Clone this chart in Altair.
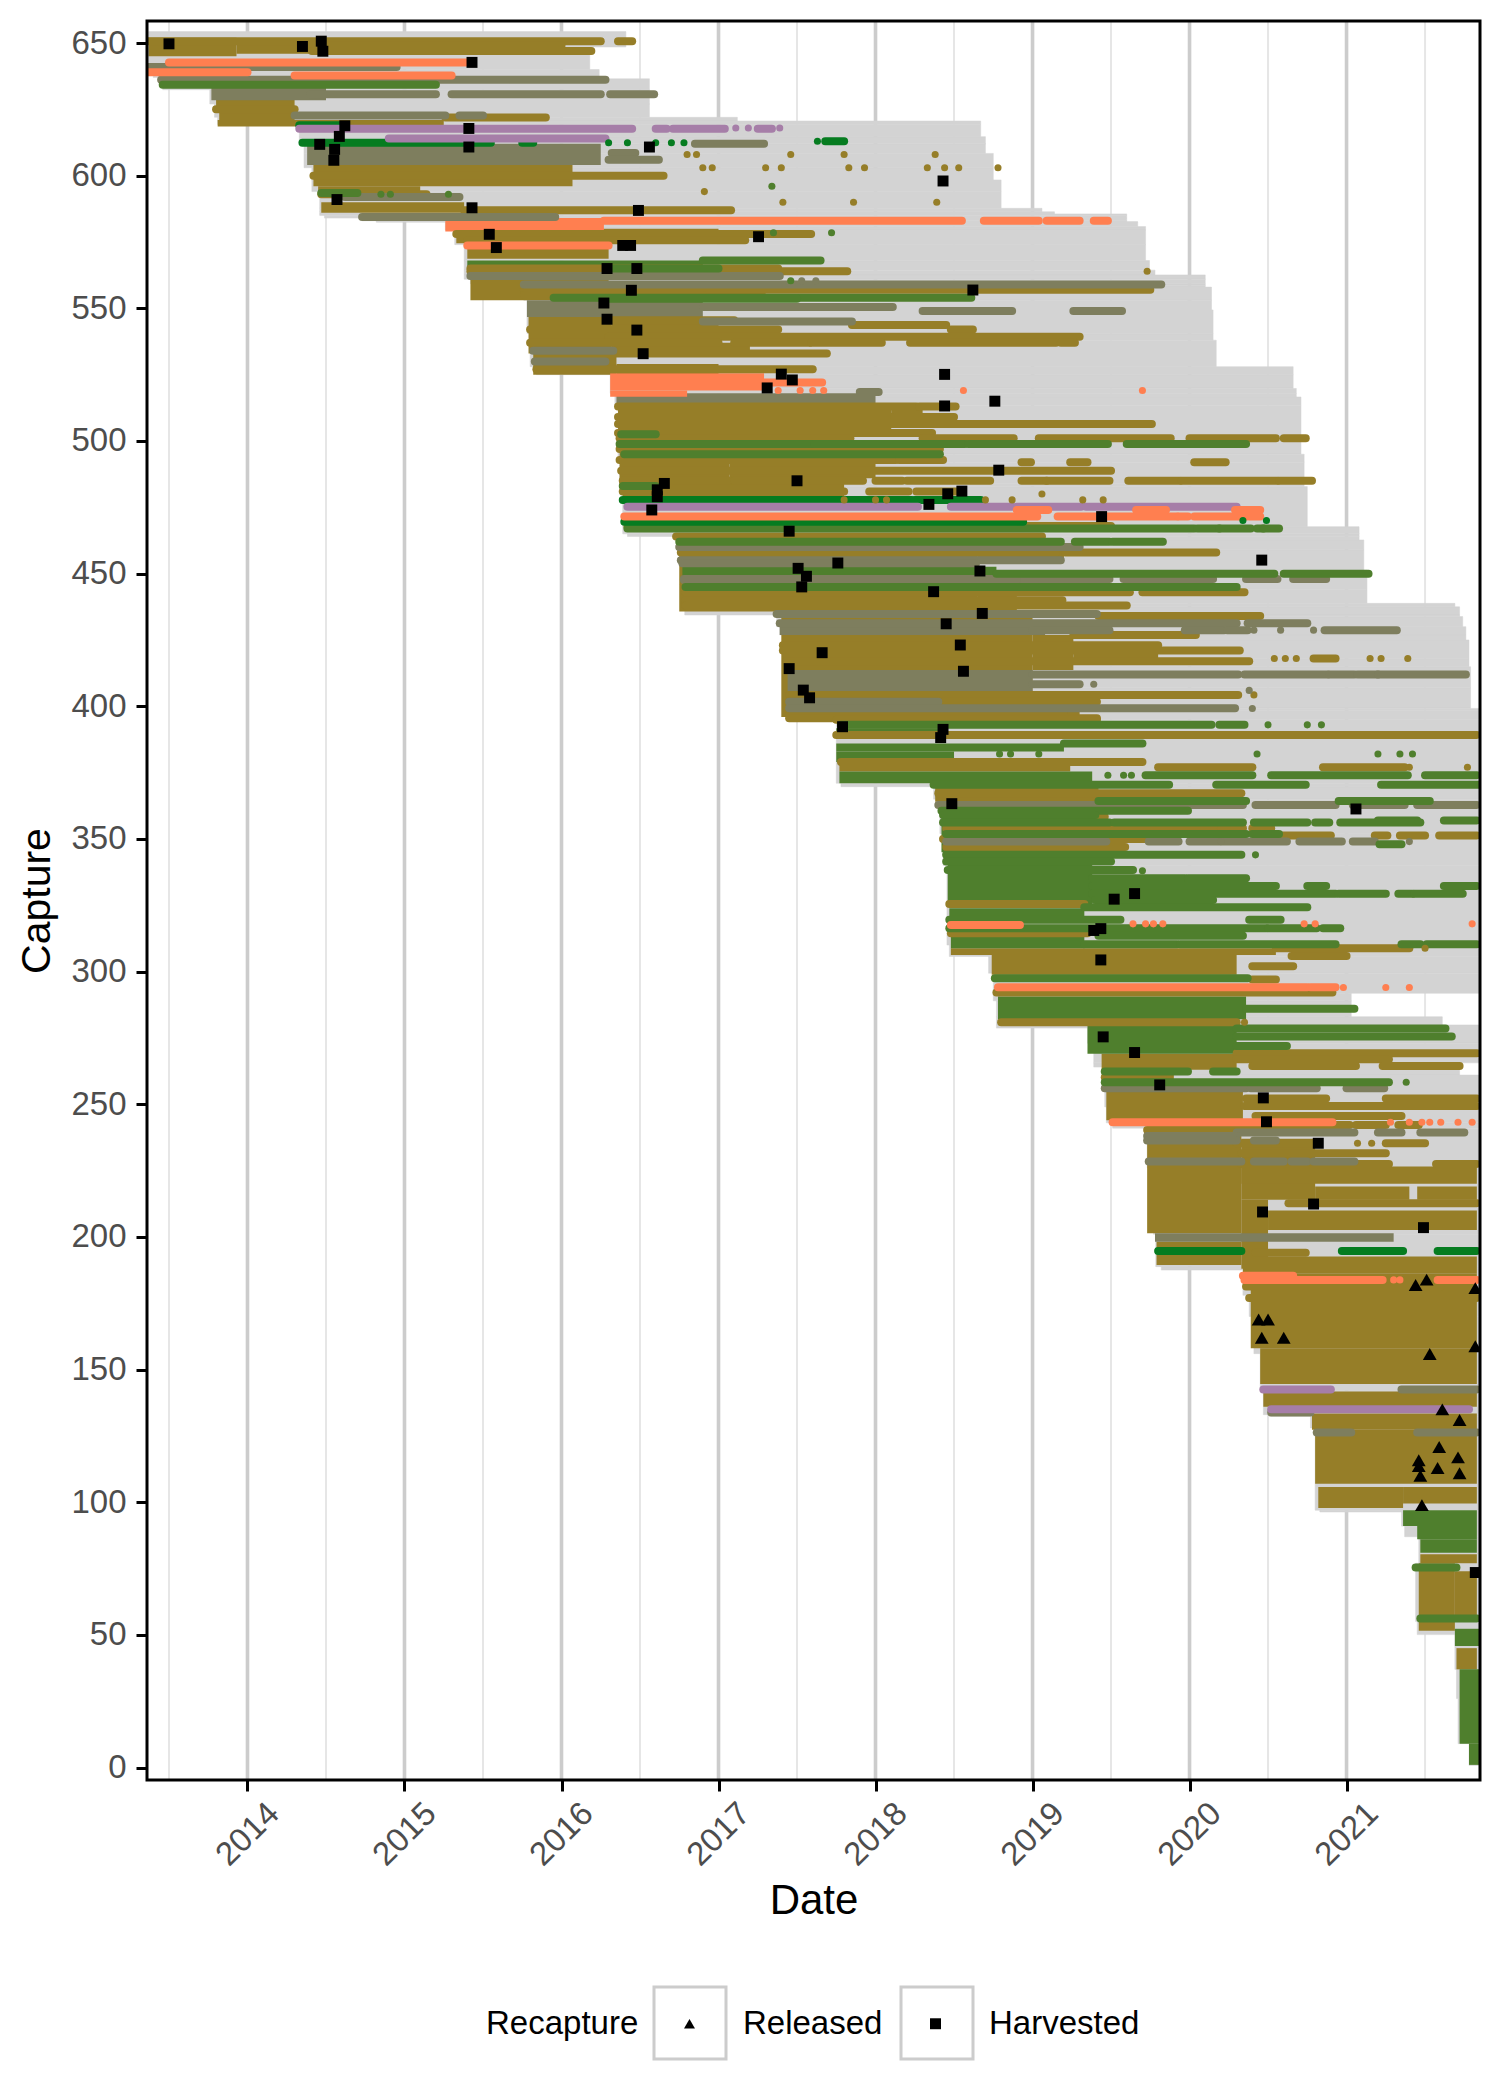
import altair as alt
import pandas as pd

# ---- capture number and decimal year ----
year_ticks = [2014, 2015, 2016, 2017, 2018, 2019, 2020, 2021]
half_years = [2013.5, 2014.5, 2015.5, 2016.5, 2017.5, 2018.5, 2019.5, 2020.5, 2021.5]
capture_ticks = list(range(0, 651, 50))

span_first = [(654.3,13.37),(640,13.40),(637,13.46),(632.4,13.76),(627,13.79),(622,13.81),(619.3,14.33),(612,14.36),(603,14.41),(594,14.46),(585,14.49),(584,14.73),(583,14.82),(582.5,15.26),(579.5,15.32),(574,15.38),(561,15.42),(559.3,15.44),(558.7,15.76),(553,15.78),(540.5,15.80),(528,15.84),(525,16.31),(518,16.34),(513.5,16.36),(492,16.37),(484,16.39),(465,16.42),(464,16.73),(459,16.76),(450,16.775),(444,16.785),(434.4,17.37),(430,17.39),(426.9,17.41),(418,17.43),(407,17.44),(398.5,17.45),(395,17.75),(371,17.78),(369.7,18.37),(365,18.41),(352,18.43),(340,18.455),(310,18.47),(305.7,18.72),(299.4,18.75),(289,18.77),(278.7,19.35),(273,19.39),(264,19.45),(258,19.46),(249,19.47),(243,19.51),(241,19.73),(226,19.745),(214,19.77),(201,19.785),(188.8,19.82),(187.5,20.34),(178,20.38),(170,20.41),(156,20.45),(142,20.47),(133,20.51),(132.4,20.77),(128,20.80),(97,20.83),(96.3,21.35),(91,21.37),(87,21.46),(77,21.44),(55,21.45),(50.1,21.69),(37,21.70),(26,21.71),(9,21.78)]
span_last = [(654.3,16.41),(648.5,16.18),(640,16.24),(636.5,16.56),(622,17.12),(620.6,18.67),(614.7,18.70),(608.4,18.75),(598.4,18.80),(587.7,19.06),(586.4,19.14),(585.6,19.6),(582.6,19.67),(580.8,19.72),(568,19.745),(564.4,19.78),(562.6,20.10),(558,20.14),(549.4,20.15),(538,20.17),(528,20.66),(519.8,20.68),(516.6,20.71),(495,20.73),(482.8,20.75),(467.7,21.08),(462.7,21.11),(451.3,21.13),(438.8,21.69),(437.5,21.72),(433.8,21.74),(430,21.76),(425,21.78),(414.9,21.79),(399.2,21.86),(291.8,21.03),(283,21.61),(279.9,21.86),(265.6,21.72),(261,21.86)]
span_bottom = 0.8

olive_blocks = [(652,645,13.37,13.93),(651,646,13.93,14.45),(629,624,13.8,14.3),(624,619,13.82,14.3),(621,618.5,13.81,15.25),(604,596,14.42,16.07),(596,592,14.45,15.1),(590,586,14.47,15.38),(580,574.5,15.33,17.0),(574.5,568.7,15.4,16.3),(565,553,15.42,16.3),(558.7,553,16.3,17.3),(546.7,533,15.79,16.32),(546,540,16.32,17.0),(537,533,16.32,17.2),(533,525,15.82,16.35),(529,525,16.35,17.0),(513.5,501.6,16.36,18.1),(513.5,507,18.1,18.3),(501.6,484,16.37,17.07),(499,486,17.07,18.0),(484,477.5,16.39,17.8),(464,435.7,16.75,18.65),(459.5,455,18.65,19.2),(443.8,435.7,18.65,18.9),(434.5,396,17.40,19.0),(426.9,413.7,19.0,19.26),(423,417,19.26,19.8),(405.5,396,19.0,19.3),(379,375.4,17.77,19.24),(369.7,364,18.38,19.42),(308.8,306.3,18.48,20.55),(306.3,298.8,18.74,20.3),(269,263,19.44,20.3),(263,254.8,19.46,19.9),(254.8,244,19.47,20.34),(240,201.4,19.73,20.33),(198.2,189.4,19.79,20.33),(237,214,20.33,20.8),(214,188,20.33,20.5),(192.6,186.3,20.34,21.83),(186.3,180,20.35,21.83),(180,158,20.39,21.83),(158,144.6,20.45,21.83),(141.7,136,20.47,21.83),(133.4,127.3,20.78,21.83),(127.3,107,20.8,21.83),(105.7,97.8,20.82,21.36),(105.7,99.5,21.36,21.83),(80.4,77,21.47,21.83),(77,51.6,21.46,21.69),(74,57.3,21.69,21.83),(45,37,21.7,21.83),(226.5,220,20.33,21.83),(219,214,20.8,21.4),(219,214,21.45,21.83),(210,202.6,20.5,21.83)]
grey_blocks = [(633,628.4,13.77,14.5),(612,604,14.38,16.25),(553,546.7,15.78,16.9),(518,513.5,16.35,18.0),(430.6,426.9,17.39,19.08),(413.7,405.5,17.44,19.0),(201.4,198.2,19.78,21.3)]
moss_blocks = [(568,565,15.4,16.9),(452.6,448.8,16.77,18.77),(391.7,389.8,17.75,18.42),(386,383,17.75,19.2),(383,379,17.75,18.5),(375.4,371,17.77,19.38),(364,345,18.42,19.4),(345.2,324.5,18.46,19.38),(335,326,19.38,19.75),(323.9,320.1,18.47,19.33),(313.8,308.8,18.48,19.33),(290.6,282,18.78,20.36),(280.5,269,19.35,20.3),(97,91,21.36,21.83),(91,86,21.45,21.83),(86,81,21.47,21.83),(52.3,45.8,21.69,21.85),(37,9,21.72,21.85),(9,1,21.78,21.85)]
coral_blocks = [(525.5,519,16.31,17.29),(519,516.7,16.31,16.8),(584,579,15.26,16.27)]

olive_rows = [(650.7,13.37,16.25),(650.7,16.36,16.45),(649,14.4,16.0),(647,14.41,16.19),(625,13.8,14.3),(621.9,15.26,15.9),(600,14.42,16.65),(593,14.47,15.14),(587,15.38,17.08),(578,15.33,17.59),(575.7,15.4,17.17),(565,15.42,17.38),(564,15.42,17.82),(557,15.76,19.75),(555,15.76,16.9),(545.5,16.3,17.1),(543.7,17.85,18.45),(542,15.8,17.38),(542,18.48,18.62),(539.3,16.3,19.3),(537,15.8,17.0),(537,17.1,17.58),(537,17.59,18.04),(537,18.22,19.15),(537,19.18,19.27),(533,15.85,17.69),(527,15.84,17.6),(513,16.36,18.26),(513,18.28,18.51),(509,16.36,18.1),(509,18.12,18.5),(506.4,16.36,19.76),(503,16.36,18.36),(501,16.37,17.84),(501,18.3,18.88),(501,19.04,19.88),(501,20.0,20.55),(501,20.6,20.74),(497,16.37,18.41),(492.8,16.37,18.13),(492.8,18.15,18.43),(492,18.93,18.99),(492,19.24,19.35),(492,20.03,20.23),(488.8,16.38,19.5),(485,16.39,17.08),(485,17.1,17.92),(485,18.0,18.17),(485,18.2,18.73),(485,18.93,19.09),(485,19.09,19.49),(485,19.61,19.94),(485,19.95,20.56),(485,20.57,20.78),(481,16.39,17.8),(481,17.96,18.21),(481,18.26,18.52),(468,16.42,19.5),(464,16.73,19.06),(458,16.76,19.15),(458,19.21,20.17),(446,16.78,18.6),(443,16.79,19.62),(443,19.7,20.35),(440,16.79,19.19),(438,16.79,19.6),(434,19.42,20.45),(426.9,19.26,20.04),(423,17.41,19.8),(421,17.41,20.32),(417,17.43,20.38),(418,20.79,20.93),(404.3,17.45,20.31),(401.7,17.45,19.41),(396.7,17.45,19.2),(395.5,17.45,19.41),(394.9,17.75,19.41),(389.2,17.75,21.83),(379,17.78,19.7),(377,19.8,20.4),(377,20.85,21.37),(367.2,18.4,20.33),(358.4,18.82,19.46),(354,18.45,20.17),(354,20.2,20.34),(354,20.4,20.52),(351.3,20.58,20.9),(351.3,21.18,21.26),(351.3,21.34,21.5),(351.3,21.59,21.83),(350,18.43,19.9),(347,18.45,19.59),(325.5,18.47,19.33),(314.5,18.48,19.35),(305.9,20.65,21.0),(302,20.4,20.66),(308.8,20.55,21.4),(297,20.4,20.55),(292.1,18.77,20.91),(280.9,18.8,20.3),(269.2,20.3,21.83),(267,20.3,21.27),(264.4,20.4,21.06),(264.4,21.23,21.72),(260.2,19.46,19.83),(252.2,20.36,20.87),(252.2,21.25,21.83),(249.3,20.35,21.83),(245.6,20.42,21.35),(242.2,20.91,21.02),(242.2,21.06,21.25),(242.2,21.33,21.46),(240.3,19.73,20.93),(235.3,20.3,20.82),(235.3,21.25,21.5),(231.5,20.33,21.25),(227.5,20.33,21.27),(227.5,21.57,21.83),(212.7,20.63,21.83),(194,20.42,20.74),(181.3,20.36,21.6),(177,20.38,21.83)]
grey_rows = [(641,13.37,14.95),(636.2,13.45,16.28),(630.7,14.4,15.2),(630.7,15.3,16.25),(630.7,16.31,16.59),(622.7,14.3,15.26),(622.7,15.35,15.5),(612,16.85,17.29),(608.5,16.32,16.47),(606,16.3,16.62),(592,14.62,15.35),(584.4,14.73,15.96),(562.2,15.42,17.39),(559,15.76,19.82),(550.5,16.9,18.11),(549,18.3,18.87),(549,19.26,19.57),(545,16.9,17.85),(534,15.82,16.33),(530,15.83,16.28),(518.5,17.9,18.02),(460,16.75,19.3),(455,16.76,19.18),(453.9,16.77,18.64),(448,16.78,19.49),(448,19.58,20.15),(448,20.36,20.56),(448,20.66,20.87),(447.6,16.78,18.9),(434.8,17.37,19.41),(431.3,17.39,20.3),(431.3,20.37,20.75),(428.7,19.0,19.49),(428.7,19.97,20.22),(428.7,20.24,20.37),(428.7,20.86,21.32),(412,19.0,20.31),(412,20.35,20.88),(412,20.89,21.05),(412,21.07,21.2),(412,21.2,21.76),(408.3,19.0,19.3),(401.7,17.45,18.4),(399.3,17.45,20.29),(362.8,18.4,20.34),(362.8,20.42,20.93),(362.8,21.04,21.37),(362.8,21.45,21.83),(349,18.45,19.47),(349,19.74,19.93),(349,20.0,20.62),(349,20.7,20.97),(349,21.04,21.18),(256,19.46,20.36),(256,20.39,20.81),(256,21.0,21.24),(239.4,20.3,21.05),(239.4,21.2,21.35),(239.4,21.47,21.75),(238,19.73,20.3),(236.3,19.73,20.3),(236.3,20.41,20.55),(228.4,19.74,20.33),(228.4,20.41,20.6),(228.4,20.65,20.75),(228.4,20.79,21.05),(126.3,20.81,21.03),(126.3,21.45,21.83),(142.5,21.35,21.83),(133.8,20.52,20.77)]
moss_rows = [(634.3,13.46,15.2),(593.5,14.47,14.7),(568,16.9,17.65),(565,16.3,17.0),(554,15.95,18.61),(553.6,16.28,17.5),(498.9,16.37,17.6),(498.9,17.61,18.57),(498.9,18.59,19.48),(498.9,19.6,20.36),(502.5,16.38,16.6),(495,16.4,18.41),(483,16.39,16.6),(467,16.42,20.03),(467,20.05,20.19),(467,20.19,20.39),(467,20.43,20.47),(467,20.47,20.57),(462,16.75,19.18),(462,19.27,19.49),(462,19.51,19.83),(450,18.77,20.54),(450,20.6,21.14),(445,16.79,20.3),(393,17.78,20.14),(393,20.19,20.35),(386,19.2,19.7),(374,19.72,20.4),(374,20.52,21.39),(374,21.5,21.83),(370.4,18.37,19.87),(370.4,20.17,20.74),(370.4,21.22,21.85),(364.3,19.42,20.36),(364.3,20.95,21.53),(360.6,18.42,19.99),(359,18.43,19.4),(357,21.2,21.45),(357,21.62,21.83),(356.2,18.43,19.49),(356.2,19.52,20.34),(356.2,20.41,20.75),(356.2,20.8,20.89),(356.2,20.96,21.47),(351.9,18.45,20.36),(351.9,20.4,20.57),(348,21.21,21.35),(344,18.45,20.33),(341.5,18.45,19.5),(338.3,18.46,19.64),(335.2,19.38,19.97),(335.2,19.99,20.36),(332.3,19.38,20.55),(332.3,20.75,20.87),(332.3,21.62,21.83),(329.3,19.38,20.93),(329.3,20.95,21.25),(329.3,21.33,21.42),(329.3,21.43,21.74),(327,19.4,20.15),(324.3,19.33,20.75),(319.5,18.47,19.56),(319.5,20.38,20.58),(316.3,18.47,20.49),(316.3,20.5,20.81),(316.3,20.85,20.96),(313.5,19.42,20.34),(310.3,19.33,19.92),(310.3,19.94,20.93),(310.3,21.35,21.47),(310.3,21.51,21.83),(297.5,18.76,20.37),(286,20.36,21.05),(278.6,20.3,21.63),(275.5,20.3,21.67),(272,20.3,20.62),(262.3,19.46,19.99),(262.3,20.15,20.3),(258.3,19.46,21.27),(75.4,21.44,21.7),(56.2,21.47,21.83)]
dkgreen_rows = [(619,14.33,14.59),(612.4,14.35,15.55),(612.4,15.75,15.82),(613,17.68,17.8),(477.8,16.39,18.23),(477.8,18.25,18.67),(469.6,16.4,18.94),(194.7,19.8,20.33),(194.7,20.97,21.36),(194.7,21.58,21.83)]
purple_rows = [(617.7,14.33,16.45),(617.7,16.6,16.67),(617.7,16.71,17.04),(617.7,17.25,17.34),(614,14.9,16.28),(475.2,16.42,18.27),(475.2,18.48,18.87),(475.2,18.9,19.31),(475.2,19.34,20.3),(142.5,20.47,20.9),(135,20.52,21.78)]
coral_rows = [(642.7,13.5,15.4),(639,13.37,14.0),(637.8,14.3,15.3),(583,16.27,18.55),(583,18.69,19.04),(583,19.09,19.3),(583,19.39,19.48),(573.7,15.4,16.3),(522,17.29,17.66),(471.5,16.4,19.03),(471.5,19.16,19.92),(471.5,19.93,19.99),(471.5,20.03,20.36),(471.5,20.38,20.45),(474,20.29,20.45),(474,18.9,19.1),(474,19.66,19.85),(294.1,18.78,20.75),(294.1,20.77,20.93),(243.2,19.51,20.91),(185.4,20.34,20.66),(183.8,20.35,21.23),(183.8,21.58,21.83),(317.6,18.48,18.92)]

olive_dots = [(608,16.8),(608,16.86),(603,16.9),(603,16.96),(594,16.91),(608,17.46),(608,17.8),(608,18.38),(603,17.3),(603,17.4),(603,17.83),(603,17.93),(603,18.33),(603,18.44),(603,18.53),(603,18.78),(590,17.41),(590,17.86),(590,18.39),(564,19.73),(418,20.54),(418,20.61),(418,20.68),(418,21.15),(418,21.22),(418,21.39),(404.3,20.41),(477.8,17.8),(477.8,18.0),(477.8,18.07),(477.8,18.7),(477.8,18.87),(477.8,19.32),(477.8,19.45),(480,19.06),(308.8,21.5),(235.3,21.07),(235.3,21.16),(377,21.4),(377,21.77),(280.9,20.35)]
grey_dots = [(560.4,17.53),(560.4,17.62),(408.3,19.39),(406,20.38),(399.2,20.4),(428.7,20.41),(428.7,20.58),(428.7,20.79),(349,21.4),(349,20.2)]
moss_dots = [(593,14.85),(593,14.91),(593,15.28),(596,17.34),(578.5,17.35),(578.5,17.72),(560.4,17.46),(393,20.5),(393,20.75),(393,20.84),(382,18.79),(382,18.86),(382,19.04),(382,20.43),(382,21.2),(382,21.34),(382,21.42),(344,20.42),(258.3,21.38),(338,19.7),(374,19.48),(374,19.58),(374,19.63)]
dkgreen_dots = [(612.4,16.3),(612.4,16.42),(612.4,16.6),(612.4,16.7),(612.4,16.78),(613,17.63),(470,20.34),(470,20.49)]
purple_dots = [(618,17.11),(618,17.19),(618,17.39)]
coral_dots = [(519,17.38),(519,17.52),(519,17.6),(519,17.67),(519,18.56),(519,19.7),(474,19.09),(318,19.64),(318,19.72),(318,19.77),(318,19.83),(318,20.73),(318,20.8),(318,21.8),(294,20.98),(294,21.25),(294,21.4),(243.2,21.28),(243.2,21.4),(243.2,21.48),(243.2,21.53),(243.2,21.6),(243.2,21.71),(243.2,21.8),(183.8,21.3),(183.8,21.34)]

harvest_year = [13.50,14.35,14.47,14.48,15.43,14.62,14.585,14.46,14.555,14.55,14.57,15.41,15.41,16.56,15.43,16.49,15.54,15.585,16.39,16.44,16.29,16.48,16.445,16.27,16.29,16.48,16.52,16.655,16.61,16.61,18.43,17.255,18.62,17.40,17.47,17.31,18.44,18.76,18.44,18.785,17.5,18.46,18.55,18.34,19.44,16.575,17.45,17.76,17.507,17.56,17.53,18.665,18.37,18.68,18.45,17.66,18.54,17.45,18.56,17.54,17.58,17.79,18.43,18.415,20.46,18.486,19.65,19.52,19.435,19.39,19.435,21.06,19.45,19.65,19.81,20.47,20.49,20.82,20.79,20.465,21.49,21.82]
harvest_capture = [649.7,648.7,650.7,646.9,642.7,618.8,614.8,611.8,609.9,605.8,591,617.8,610.8,610.8,587.9,586.9,577.9,572.9,573.7,573.7,565,565,556.8,552,545.9,541.8,532.9,484,481.6,479,598,577,556.9,525.2,523,520,525.1,515,513.2,489,485,480.1,481.1,476.1,471.5,474,466,454,452,449,445,451,443.2,435,431.1,420.2,423.1,414.2,413.2,406.1,403.2,392.3,391.3,388.2,455.1,363.3,329.4,327.3,316.2,315.5,304.4,361.3,275.4,269.5,257.3,252.4,243.4,235.3,212.4,209.4,203.5,73.5]
release_year = [21.44,21.51,21.82,20.44,20.50,20.46,20.60,21.82,21.53,21.61,21.72,21.59,21.46,21.71,21.46,21.58,21.47,21.72,21.48]
release_capture = [181.9,183.9,180.7,168.9,168.9,162,162,158.8,155.9,135,131,120.8,115.8,116.9,113.6,112.9,110,110.9,98.9]

COLORS = {"olive": "#967E28", "grey": "#7E7E5E", "moss": "#4F7F2D", "dkgreen": "#067C20", "purple": "#A67EA8", "coral": "#FF7F50"}
W, H = 1333, 1759
XDOM, YDOM = [2013.36, 2021.85], [-4.7, 658.3]

breaks = sorted({c for c, _ in span_first} | {c for c, _ in span_last} | {span_bottom}, reverse=True)
def step(steps, cap):
    val = steps[0][1]
    for c, y in steps:
        if c >= cap:
            val = y
    return val
span_df = pd.DataFrame([
    {"hi": a, "lo": b, "x1": 2000 + step(span_first, a), "x2": 2000 + step(span_last, a)}
    for a, b in zip(breaks[:-1], breaks[1:])
])

def blocks(**kw):
    return pd.DataFrame([{"cat": k, "hi": h, "lo": l, "x1": 2000 + a, "x2": 2000 + b} for k, v in kw.items() for h, l, a, b in v])
def rows(**kw):
    return pd.DataFrame([{"cat": k, "cap": c, "x1": 2000 + a, "x2": 2000 + b, "o": i} for i, (k, v) in enumerate(kw.items()) for c, a, b in v])
def dots(**kw):
    return pd.DataFrame([{"cat": k, "cap": c, "x": 2000 + a} for k, v in kw.items() for c, a in v])

block_df = blocks(olive=olive_blocks, grey=grey_blocks, moss=moss_blocks, coral=coral_blocks)
row_df = rows(olive=olive_rows, grey=grey_rows, moss=moss_rows, dkgreen=dkgreen_rows, purple=purple_rows, coral=coral_rows)
dot_df = dots(olive=olive_dots, grey=grey_dots, moss=moss_dots, dkgreen=dkgreen_dots, purple=purple_dots, coral=coral_dots)
recap_df = pd.DataFrame(
    [{"x": 2000 + a, "cap": b, "kind": "Released", "mark_size": "large"} for a, b in zip(release_year, release_capture)]
    + [{"x": 2000 + a, "cap": b, "kind": "Harvested", "mark_size": "small"} for a, b in zip(harvest_year, harvest_capture)]
)

xs = alt.Scale(domain=XDOM, nice=False, zero=False)
ys = alt.Scale(domain=YDOM, nice=False, zero=False)
cs = alt.Scale(domain=list(COLORS), range=list(COLORS.values()))
color = alt.Color("cat:N", scale=cs, legend=None)

x_axis = alt.Axis(values=year_ticks, format="d", title="Date", grid=False, domain=False, tickSize=11, tickWidth=3, tickColor="black",
                  labelAngle=315, labelAlign="center", labelBaseline="middle", labelPadding=43, labelFontSize=33, labelColor="#4D4D4D",
                  labelFont="Liberation Sans", titleFont="Liberation Sans", titleFontSize=42, titleFontWeight="normal", titleColor="black", titlePadding=9, labelOverlap=False, labelFlush=False)
y_axis = alt.Axis(values=capture_ticks, title="Capture", grid=False, domain=False, tickSize=11, tickWidth=3, tickColor="black",
                  labelPadding=10, labelFontSize=33, labelColor="#4D4D4D", labelFont="Liberation Sans", titleFont="Liberation Sans",
                  titleFontSize=41, titleFontWeight="normal", titleColor="black", titlePadding=12, labelOverlap=False)
X = lambda f: alt.X(f, type="quantitative", scale=xs, axis=x_axis)
Y = lambda f: alt.Y(f, type="quantitative", scale=ys, axis=y_axis)

minor = alt.Chart(pd.DataFrame({"x": half_years})).mark_rule(color="#E6E6E6", strokeWidth=2).encode(x=X("x"))
major = alt.Chart(pd.DataFrame({"x": year_ticks})).mark_rule(color="#CCCCCC", strokeWidth=3.6).encode(x=X("x"))
span = alt.Chart(span_df).mark_rect(color="#D3D3D3", stroke="#D3D3D3", strokeWidth=0.5, clip=True).encode(x=X("x1"), x2=alt.X2("x2"), y=Y("hi"), y2=alt.Y2("lo"))
blk = alt.Chart(block_df).mark_rect(clip=True).encode(x=X("x1"), x2=alt.X2("x2"), y=Y("hi"), y2=alt.Y2("lo"), color=color)
rws = alt.Chart(row_df).mark_rule(strokeWidth=8, strokeCap="round", clip=True).encode(x=X("x1"), x2=alt.X2("x2"), y=Y("cap"), color=color, order=alt.Order("o:Q"))
dts = alt.Chart(dot_df).mark_circle(size=50, opacity=1, clip=True).encode(x=X("x"), y=Y("cap"), color=color)
legend = alt.Legend(orient="none", legendX=339, legendY=1986, direction="horizontal", title="Recapture", titleOrient="left",
                    titleFont="Liberation Sans", titleFontSize=33, titleFontWeight="normal", titleColor="black", titlePadding=34, titleAnchor="middle",
                    labelFont="Liberation Sans", labelFontSize=33, labelColor="black", labelOffset=37, columnPadding=36, symbolType="square",
                    symbolFillColor="black", symbolStrokeColor="black", symbolSize=120, symbolOffset=0, labelLimit=400)
recap = alt.Chart(recap_df).mark_point(filled=True, color="black", opacity=1, clip=True).encode(
    x=X("x"), y=Y("cap"),
    size=alt.Size("mark_size:N", scale=alt.Scale(domain=["large", "small"], range=[190, 120]), legend=None),
    shape=alt.Shape("kind:N", scale=alt.Scale(domain=["Released", "Harvested"], range=["triangle-up", "square"]), legend=legend))
one = pd.DataFrame({"a": [1]})
key_box = lambda a, b: alt.Chart(one).mark_rect(fillOpacity=0, stroke="#CCCCCC", strokeWidth=3).encode(
    x=alt.value(a), x2=alt.value(b), y=alt.value(1966), y2=alt.value(2038))
panel = alt.Chart(one).mark_rect(fillOpacity=0, stroke="black", strokeWidth=3).encode(
    x=alt.value(0), x2=alt.value(W), y=alt.value(0), y2=alt.value(H))

chart = alt.layer(minor, major, span, blk, rws, dts, recap, key_box(507, 579), key_box(754, 826), panel).properties(
    width=W, height=H, autosize=alt.AutoSizeParams(type="none"),
    padding={"left": 139, "top": 13, "right": 10, "bottom": 300},
).configure_view(stroke=None)

chart.save("out.html", embed_options={"renderer": "svg", "actions": False})
